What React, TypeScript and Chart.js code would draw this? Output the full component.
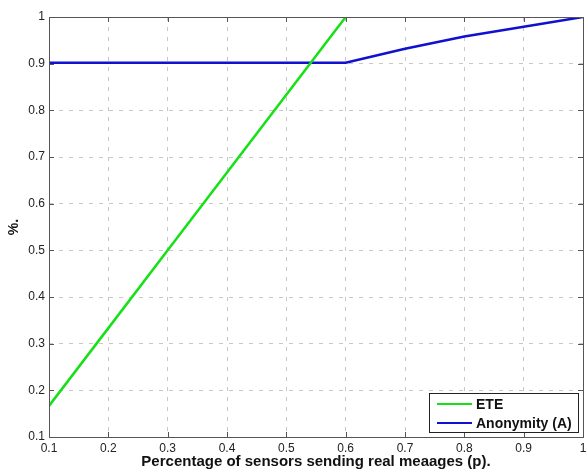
import React, { useEffect, useRef } from "react";
import { Chart, registerables } from "chart.js";

Chart.register(...registerables);

const pValues = [0.1, 0.2, 0.3, 0.4, 0.5, 0.6, 0.7, 0.8, 0.9, 1.0];
const eteValues = [0.1667, 0.3333, 0.5, 0.6667, 0.8333, 1.0, null, null, null, null];
const anonymityValues = [0.902, 0.902, 0.902, 0.902, 0.902, 0.902, 0.932, 0.958, 0.979, 1.0];
const seriesLabels = ["ETE", "Anonymity (A)"];
const seriesColors = ["#16e016", "#1010d0"];
const xTitle = "Percentage of sensors sending real meaages (p).";
const yTitle = "%.";

const FONT = "'Liberation Sans', Arial, sans-serif";
const fmt = (v: any) => String(parseFloat(Number(v).toFixed(1)));

const frame = {
  id: "frame",
  afterDraw(chart: any) {
    const { ctx, chartArea: a, scales } = chart;
    ctx.save();
    ctx.strokeStyle = "#555";
    ctx.lineWidth = 1;
    ctx.strokeRect(Math.round(a.left) + 0.5, Math.round(a.top) + 0.5, Math.round(a.right - a.left), Math.round(a.bottom - a.top));
    const len = 5;
    ctx.beginPath();
    scales.x.ticks.forEach((t: any) => {
      const x = Math.round(scales.x.getPixelForValue(t.value)) + 0.5;
      ctx.moveTo(x, a.bottom); ctx.lineTo(x, a.bottom - len);
      ctx.moveTo(x, a.top); ctx.lineTo(x, a.top + len);
    });
    scales.y.ticks.forEach((t: any) => {
      const y = Math.round(scales.y.getPixelForValue(t.value)) + 0.5;
      ctx.moveTo(a.left, y); ctx.lineTo(a.left + len, y);
      ctx.moveTo(a.right, y); ctx.lineTo(a.right - len, y);
    });
    ctx.stroke();

    const ds = chart.data.datasets;
    const bw = 149, bh = 39;
    const bx = a.right - 5 - bw, by = a.bottom - 5 - bh;
    ctx.fillStyle = "#fff";
    ctx.fillRect(bx, by, bw, bh);
    ctx.strokeStyle = "#222";
    ctx.strokeRect(Math.round(bx) + 0.5, Math.round(by) + 0.5, bw, bh);
    ctx.font = "bold 14px " + FONT;
    ctx.textBaseline = "middle";
    ds.forEach((d: any, i: number) => {
      const y = by + 11 + i * 19;
      ctx.strokeStyle = d.borderColor;
      ctx.lineWidth = 2;
      ctx.beginPath();
      ctx.moveTo(bx + 8, y); ctx.lineTo(bx + 43, y);
      ctx.stroke();
      ctx.fillStyle = "#111";
      ctx.fillText(d.label, bx + 47, y + 1);
    });
    ctx.restore();
  },
};

export default function App() {
  const ref = useRef<HTMLCanvasElement>(null);
  useEffect(() => {
    const chart = new Chart(ref.current!, {
      type: "line",
      data: {
        datasets: [
          {
            label: seriesLabels[0],
            data: pValues.map((p, i) => ({ x: p, y: eteValues[i] })) as any,
            borderColor: seriesColors[0],
            borderWidth: 2.5,
            pointRadius: 0,
            tension: 0,
            spanGaps: false,
          },
          {
            label: seriesLabels[1],
            data: pValues.map((p, i) => ({ x: p, y: anonymityValues[i] })) as any,
            borderColor: seriesColors[1],
            borderWidth: 2.5,
            pointRadius: 0,
            tension: 0,
          },
        ],
      },
      options: {
        animation: false,
        responsive: false,
        layout: { padding: { top: 17, right: 3, left: 0, bottom: 0 } },
        plugins: { legend: { display: false }, tooltip: { enabled: false } },
        scales: {
          x: {
            type: "linear",
            min: 0.1,
            max: 1,
            ticks: { stepSize: 0.1, color: "#222", font: { family: FONT, size: 12 }, padding: 4, maxRotation: 0, callback: fmt },
            grid: { color: "#c8c8c8", drawTicks: false, tickLength: 0 },
            border: { display: false, dash: [4, 6] },
            title: { display: true, text: xTitle, color: "#111", font: { family: FONT, size: 15, weight: "bold" }, padding: { top: 0, bottom: 0 } },
            afterFit: (s: any) => { s.height = 34; s.paddingRight = 0; s.paddingLeft = 0; },
          },
          y: {
            min: 0.1,
            max: 1,
            ticks: { stepSize: 0.1, color: "#222", font: { family: FONT, size: 12 }, padding: 4, callback: fmt },
            grid: { color: "#c8c8c8", drawTicks: false, tickLength: 0 },
            border: { display: false, dash: [4, 6] },
            title: { display: true, text: yTitle, color: "#111", font: { family: FONT, size: 14, weight: "bold" }, padding: { top: 6, bottom: 0 } },
            afterFit: (s: any) => { s.width = 49; },
          },
        },
      } as any,
      plugins: [frame],
    });
    return () => chart.destroy();
  }, []);
  return (
    <div style={{ position: "fixed", left: 0, top: 0, width: 586, height: 471, background: "#fff" }}>
      <canvas ref={ref} width={586} height={471} />
    </div>
  );
}
